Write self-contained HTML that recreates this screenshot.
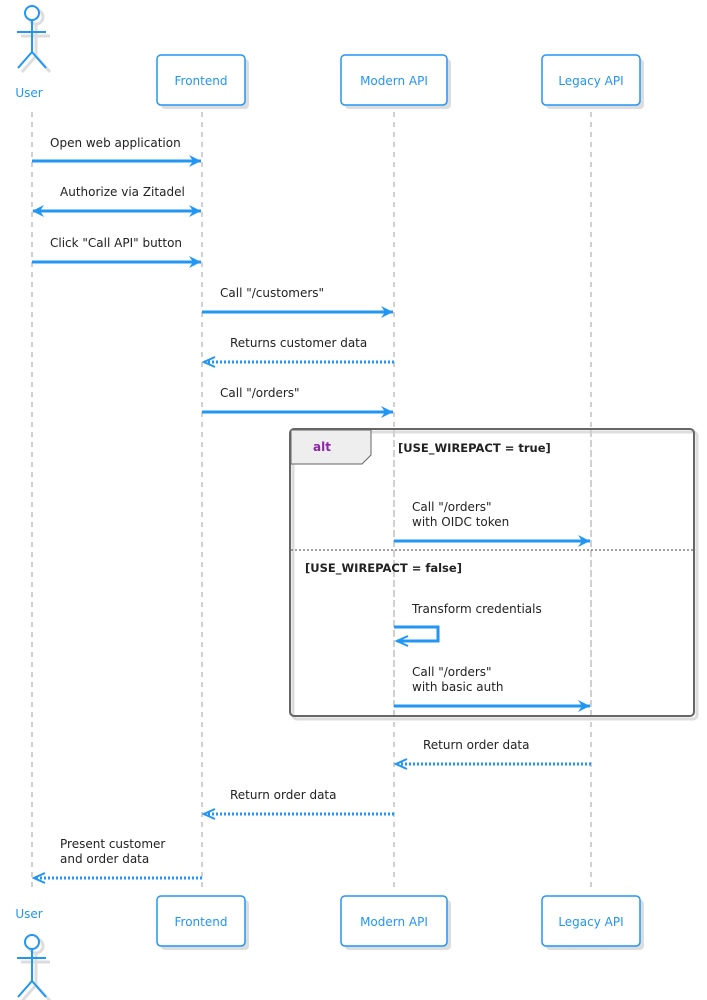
<!DOCTYPE html>
<html><head><meta charset="utf-8"><style>html,body{margin:0;padding:0;background:#fff}svg{display:block}text{font-family:"DejaVu Sans","Liberation Sans",sans-serif}</style></head>
<body>
<svg width="707" height="1000" viewBox="0 0 707 1000" xmlns="http://www.w3.org/2000/svg">
<defs>
<marker id="a" markerWidth="14" markerHeight="12" refX="12" refY="6" orient="auto" markerUnits="userSpaceOnUse"><path d="M0,0 L12,6 L0,12 L4,6 Z" fill="#2196F3"/></marker>
<marker id="b" markerWidth="14" markerHeight="12" refX="1" refY="6" orient="auto" markerUnits="userSpaceOnUse"><path d="M12,0 L0,6 L12,12 L8,6 Z" fill="#2196F3"/></marker>
<marker id="o" markerWidth="14" markerHeight="12" refX="12" refY="6" orient="auto" markerUnits="userSpaceOnUse"><path d="M1,1 L12,6 L1,11" fill="none" stroke="#2196F3" stroke-width="2"/></marker>
</defs>
<g stroke="#d0d0d0" stroke-width="2" stroke-dasharray="5,5">
<line x1="32" y1="112" x2="32" y2="890"/><line x1="202" y1="112" x2="202" y2="890"/><line x1="394" y1="112" x2="394" y2="890"/><line x1="591" y1="112" x2="591" y2="890"/>
</g>
<g fill="none" stroke="#ddd" stroke-width="3" transform="translate(4,4)">
<circle cx="32" cy="13" r="7"/><path d="M32 20V52M17 32H46M32 52L18 68M32 52L46 68"/>
<circle cx="32" cy="942" r="7"/><path d="M32 949V981M17 958H46M32 981L18 997M32 981L46 997"/>
</g>
<g fill="none" stroke="#2196F3" stroke-width="2">
<circle cx="32" cy="13" r="7" fill="#fff"/><path d="M32 20V52M17 32H46M32 52L18 68M32 52L46 68"/>
<circle cx="32" cy="942" r="7" fill="#fff"/><path d="M32 949V981M17 958H46M32 981L18 997M32 981L46 997"/>
</g>
<g font-size="12" fill="#2196F3" text-anchor="middle">
<text x="29" y="97">User</text><text x="29" y="918">User</text>
</g>
<g>
<g fill="#ddd"><rect x="161" y="59" width="88" height="50" rx="4"/><rect x="345" y="59" width="106" height="50" rx="4"/><rect x="546" y="59" width="98" height="50" rx="4"/>
<rect x="161" y="900" width="88" height="50" rx="4"/><rect x="345" y="900" width="106" height="50" rx="4"/><rect x="546" y="900" width="98" height="50" rx="4"/></g>
<g fill="#fff" stroke="#2196F3" stroke-width="1.5"><rect x="157" y="55" width="88" height="50" rx="4"/><rect x="341" y="55" width="106" height="50" rx="4"/><rect x="542" y="55" width="98" height="50" rx="4"/>
<rect x="157" y="896" width="88" height="50" rx="4"/><rect x="341" y="896" width="106" height="50" rx="4"/><rect x="542" y="896" width="98" height="50" rx="4"/></g>
<g font-size="12" fill="#2196F3" text-anchor="middle">
<text x="201" y="85">Frontend</text><text x="394" y="85">Modern API</text><text x="591" y="85">Legacy API</text>
<text x="201" y="926">Frontend</text><text x="394" y="926">Modern API</text><text x="591" y="926">Legacy API</text></g>
</g>
<!-- alt frame shadow (outline only) -->
<rect x="293" y="432" width="404" height="287" rx="4" fill="none" stroke="#ddd" stroke-width="3"/>
<rect x="290" y="429" width="404" height="287" rx="4" fill="none" stroke="#666" stroke-width="2"/>
<g stroke="#d0d0d0" stroke-width="2" stroke-dasharray="5,5">
<line x1="394" y1="430" x2="394" y2="715"/><line x1="591" y1="430" x2="591" y2="715"/>
</g>
<path d="M291 430H371V455L362 464H291Z" fill="#eee" stroke="#666" stroke-width="1"/>
<text x="322" y="451" font-size="12" font-weight="bold" fill="#8e24aa" text-anchor="middle">alt</text>
<text x="398" y="452" font-size="11.5" font-weight="bold" fill="#222">[USE_WIREPACT = true]</text>
<line x1="291" y1="550" x2="693" y2="550" stroke="#444" stroke-width="1" stroke-dasharray="2,2"/>
<text x="305" y="572" font-size="11.5" font-weight="bold" fill="#222">[USE_WIREPACT = false]</text>
<g stroke="#2196F3" stroke-width="3" fill="none">
<line x1="32" y1="161" x2="201" y2="161" marker-end="url(#a)"/>
<line x1="33" y1="211" x2="201" y2="211" marker-end="url(#a)" marker-start="url(#b)"/>
<line x1="32" y1="262" x2="201" y2="262" marker-end="url(#a)"/>
<line x1="202" y1="312" x2="393" y2="312" marker-end="url(#a)"/>
<line x1="394" y1="362" x2="204" y2="362" stroke-dasharray="2,2" marker-end="url(#o)"/>
<line x1="202" y1="412" x2="393" y2="412" marker-end="url(#a)"/>
<line x1="394" y1="541" x2="590" y2="541" marker-end="url(#a)"/>
<path d="M394 627H438V641H397" marker-end="url(#o)"/>
<line x1="394" y1="706" x2="590" y2="706" marker-end="url(#a)"/>
<line x1="591" y1="764" x2="396" y2="764" stroke-dasharray="2,2" marker-end="url(#o)"/>
<line x1="394" y1="814" x2="204" y2="814" stroke-dasharray="2,2" marker-end="url(#o)"/>
<line x1="202" y1="878" x2="34" y2="878" stroke-dasharray="2,2" marker-end="url(#o)"/>
</g>
<g font-size="12" fill="#222">
<text x="50" y="147">Open web application</text>
<text x="60" y="196">Authorize via Zitadel</text>
<text x="50" y="247">Click "Call API" button</text>
<text x="220" y="297">Call "/customers"</text>
<text x="230" y="347">Returns customer data</text>
<text x="220" y="397">Call "/orders"</text>
<text x="412" y="511">Call "/orders"</text><text x="412" y="526">with OIDC token</text>
<text x="412" y="613">Transform credentials</text>
<text x="412" y="676">Call "/orders"</text><text x="412" y="691">with basic auth</text>
<text x="423" y="749">Return order data</text>
<text x="230" y="799">Return order data</text>
<text x="60" y="848">Present customer</text><text x="60" y="863">and order data</text>
</g>
</svg>
</body></html>
